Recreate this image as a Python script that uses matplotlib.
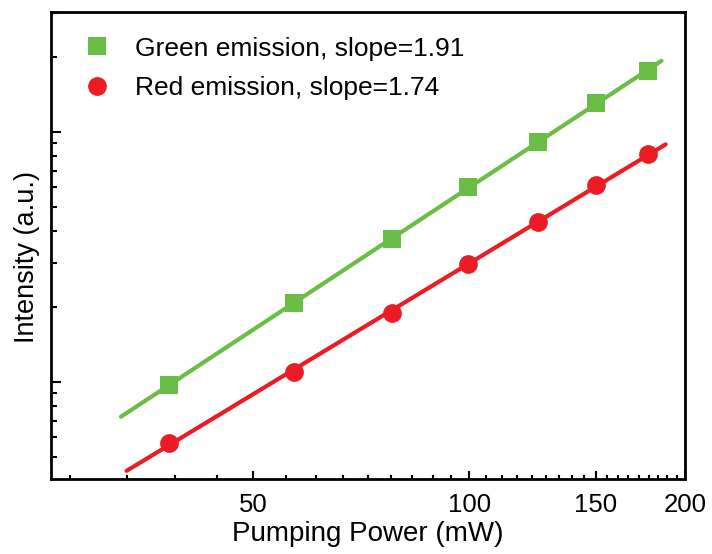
import numpy as np
import matplotlib
matplotlib.use("Agg")
from matplotlib import pyplot as plt
from matplotlib.ticker import FixedLocator, NullFormatter, LogLocator

plt.rcParams['font.family'] = ['Liberation Sans', 'DejaVu Sans']

# pumping power (mW) and intensity (a.u.)
power = [38.1, 56.9, 78.1, 99.5, 124.8, 150, 177.2]
green = [973, 2061, 3715, 6008, 9120, 13020, 17590]
red = [572, 1100, 1888, 2962, 4373, 6109, 8128]
green_fit_range = [32.7, 185.3]
red_fit_range = [33.3, 187.8]
green_label = "Green emission, slope=1.91"
red_label = "Red emission, slope=1.74"
xticks = [50, 100, 150, 200]

green_c = '#6abd45'
red_c = '#ec1c24'

fig = plt.figure(figsize=(7.12, 5.54), dpi=100)
ax = fig.add_axes([0.0712, 0.1354, 0.8913, 0.8429])
ax.set_xscale('log')
ax.set_yscale('log')

# linear fits in log-log space
for xs, ys, rng, c in [(power, green, green_fit_range, green_c),
                       (power, red, red_fit_range, red_c)]:
    k, b = np.polyfit(np.log10(xs), np.log10(ys), 1)
    xf = np.array(rng)
    ax.plot(xf, 10 ** (k * np.log10(xf) + b), '-', color=c, lw=3,
            solid_capstyle='round', zorder=2)

ax.plot(power, green, 's', color=green_c, ms=13, mew=0, label=green_label, zorder=3)
ax.plot(power, red, 'o', color=red_c, ms=13.5, mew=0, label=red_label, zorder=3)

ax.set_xlim(26.1, 200)
ax.set_ylim(409, 30200)

ax.xaxis.set_major_locator(FixedLocator(xticks))
ax.set_xticklabels([str(t) for t in xticks])
# origin style minor ticks: 8 evenly spaced between majors
minors = [50 + 50 / 9 * k for k in range(-4, 28) if k % 9 != 0]
ax.xaxis.set_minor_locator(FixedLocator(minors))
ax.xaxis.set_minor_formatter(NullFormatter())

ax.yaxis.set_major_locator(LogLocator(base=10))
ax.yaxis.set_minor_locator(LogLocator(base=10, subs=np.arange(2, 10)))
ax.yaxis.set_major_formatter(NullFormatter())
ax.yaxis.set_minor_formatter(NullFormatter())

ax.tick_params(axis='both', which='both', direction='in', top=False, right=False,
               width=1.5, labelsize=18.5, pad=10)
ax.tick_params(axis='x', which='major', length=6)
ax.tick_params(axis='x', which='minor', length=3)
ax.tick_params(axis='y', which='major', length=7.5)
ax.tick_params(axis='y', which='minor', length=4.3)

for s in ax.spines.values():
    s.set_linewidth(2)

ax.set_xlabel("Pumping Power (mW)", fontsize=20, labelpad=3)
ax.set_ylabel("Intensity (a.u.)", fontsize=19.5)
ax.yaxis.set_label_coords(-0.017, 0.475)

ax.legend(loc='upper left', bbox_to_anchor=(0.0355, 0.970), frameon=False,
          fontsize=19, handlelength=1.0, handletextpad=0.94,
          labelspacing=0.58, borderaxespad=0)

fig.savefig('out.png', dpi=100)
